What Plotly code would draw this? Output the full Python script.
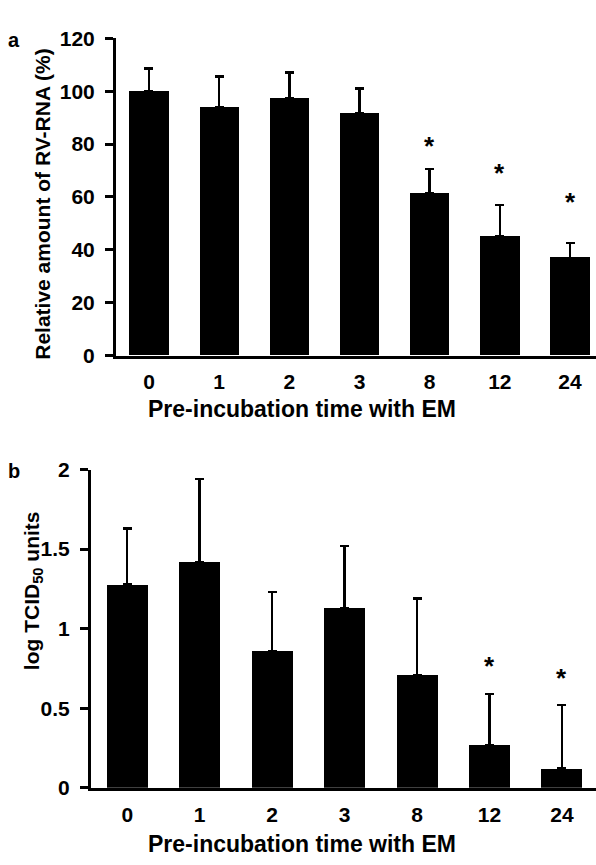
import plotly.graph_objects as go

# ---------------- data ----------------
categories = ["0", "1", "2", "3", "8", "12", "24"]

rna_mean = [100, 94, 97.5, 91.5, 61.5, 45, 37]
rna_err = [8.5, 11.5, 9.5, 9.5, 9, 12, 5.5]
rna_sig = ["", "", "", "", "*", "*", "*"]
rna_star_y = [None, None, None, None, 80, 70, 59]

tcid_mean = [1.28, 1.42, 0.86, 1.13, 0.71, 0.27, 0.12]
tcid_err = [0.35, 0.52, 0.37, 0.39, 0.48, 0.32, 0.40]
tcid_sig = ["", "", "", "", "", "*", "*"]
tcid_star_y = [None, None, None, None, None, 0.78, 0.70]

y1_ticks = [0, 20, 40, 60, 80, 100, 120]
y2_ticks = [0, 0.5, 1, 1.5, 2]
y2_ticktext = ["0", "0.5", "1", "1.5", "2"]

x_title = "Pre-incubation time with EM"
y1_title = "Relative amount of RV-RNA (%)"
y2_title = "log TCID<sub>50</sub> units"

# ---------------- layout geometry ----------------
W, H = 596, 865
FONT = "Liberation Sans, Arial, Helvetica, sans-serif"


def px_x(p):
    return p / W


def px_y(p):
    return 1 - p / H


fig = go.Figure()

fig.add_trace(go.Bar(
    x=categories, y=rna_mean, width=0.56,
    marker=dict(color="black", line=dict(width=0)),
    error_y=dict(type="data", array=rna_err, arrayminus=[0] * len(rna_err),
                 symmetric=False, thickness=2.5, width=4.5, color="black"),
    xaxis="x", yaxis="y", showlegend=False,
))

fig.add_trace(go.Bar(
    x=categories, y=tcid_mean, width=0.565,
    marker=dict(color="black", line=dict(width=0)),
    error_y=dict(type="data", array=tcid_err, arrayminus=[0] * len(tcid_err),
                 symmetric=False, thickness=2.5, width=4.5, color="black"),
    xaxis="x2", yaxis="y2", showlegend=False,
))

star_font = dict(family=FONT, size=26, color="black", weight="bold")
annotations = []
for i, (s, yv) in enumerate(zip(rna_sig, rna_star_y)):
    if s:
        annotations.append(dict(x=i, y=yv, xref="x", yref="y", text=s,
                                xanchor="center", yanchor="middle",
                                showarrow=False, yshift=-2, font=star_font))
for i, (s, yv) in enumerate(zip(tcid_sig, tcid_star_y)):
    if s:
        annotations.append(dict(x=i, y=yv, xref="x2", yref="y2", text=s,
                                xanchor="center", yanchor="middle",
                                showarrow=False, yshift=-2, font=star_font))

ytitle_font = dict(family=FONT, size=21, color="black", weight="bold")
xtitle_font = dict(family=FONT, size=23, color="black", weight="bold")
label_font = dict(family=FONT, size=20, color="black", weight="bold")
annotations += [
    dict(x=px_x(14), y=px_y(29), xref="paper", yref="paper", text="a", showarrow=False,
         xanchor="center", yanchor="middle", font=label_font),
    dict(x=px_x(14), y=px_y(472), xref="paper", yref="paper", text="b", showarrow=False,
         xanchor="center", yanchor="middle", font=label_font),
    dict(x=px_x(43), y=px_y(197), xref="paper", yref="paper", text=y1_title, textangle=-90,
         xanchor="center", yanchor="middle", showarrow=False, font=ytitle_font),
    dict(x=px_x(33), y=px_y(595), xref="paper", yref="paper", text=y2_title, textangle=-90,
         xanchor="center", yanchor="middle", showarrow=False, font=ytitle_font),
    dict(x=px_x(302), y=px_y(408), xref="paper", yref="paper", text=x_title,
         xanchor="center", yanchor="middle", showarrow=False, font=xtitle_font),
    dict(x=px_x(302), y=px_y(855), xref="paper", yref="paper", text=x_title,
         xanchor="center", yanchor="middle", showarrow=False, font=xtitle_font),
]

tick_font = dict(family=FONT, size=21, color="black", weight="bold")

fig.update_layout(
    width=W, height=H,
    margin=dict(l=0, r=0, t=0, b=0),
    paper_bgcolor="white", plot_bgcolor="white",
    font=dict(family=FONT, color="black"),
    bargap=0,
    annotations=annotations,
    xaxis=dict(domain=[px_x(116), 1.0], range=[-0.47, 6.37], anchor="y",
               showline=True, linewidth=3, linecolor="black", ticks="",
               showgrid=False, zeroline=False, tickfont=tick_font, ticklabelstandoff=5),
    yaxis=dict(domain=[px_y(353), px_y(27)], range=[0, 120], anchor="x",
               tickvals=y1_ticks, showline=True, linewidth=3, linecolor="black",
               ticks="outside", ticklen=8, tickwidth=2.5, tickcolor="black",
               showgrid=False, zeroline=False, tickfont=tick_font, ticklabelstandoff=6),
    xaxis2=dict(domain=[px_x(91), 1.0], range=[-0.5, 6.47], anchor="y2",
                showline=True, linewidth=3, linecolor="black", ticks="",
                showgrid=False, zeroline=False, tickfont=tick_font, ticklabelstandoff=6),
    yaxis2=dict(domain=[px_y(797), px_y(470)], range=[0, 2], anchor="x2",
                tickvals=y2_ticks, ticktext=y2_ticktext, showline=True, linewidth=3,
                linecolor="black", ticks="outside", ticklen=8, tickwidth=2.5,
                tickcolor="black", showgrid=False, zeroline=False, tickfont=tick_font,
                ticklabelstandoff=6),
)

fig.write_html("out.html")
